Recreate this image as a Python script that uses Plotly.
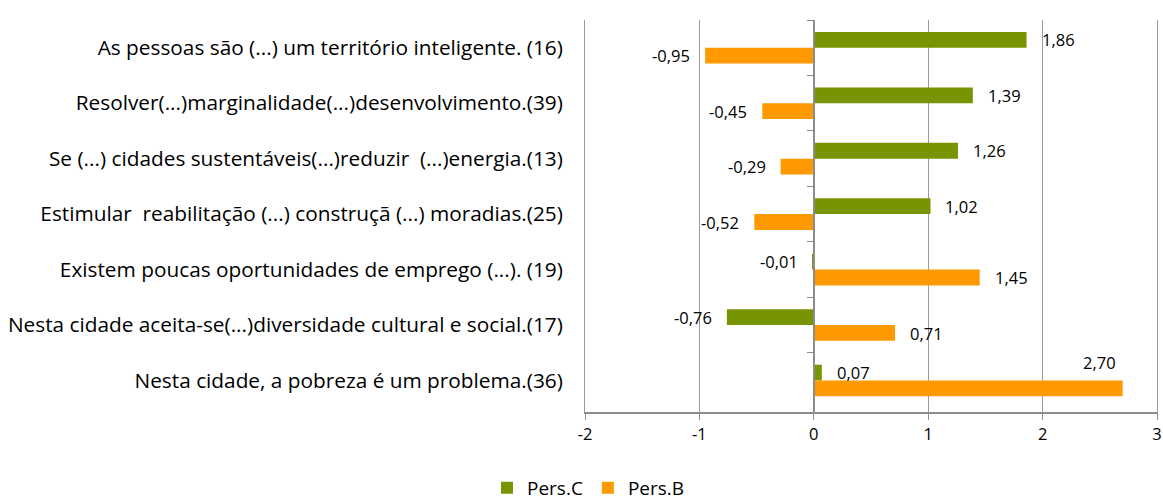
import plotly.graph_objects as go

categories = [
    "As pessoas são (...) um território inteligente. (16)",
    "Resolver(...)marginalidade(...)desenvolvimento.(39)",
    "Se (...) cidades sustentáveis(...)reduzir  (...)energia.(13)",
    "Estimular  reabilitação (...) construçã (...) moradias.(25)",
    "Existem poucas oportunidades de emprego (...). (19)",
    "Nesta cidade aceita-se(...)diversidade cultural e social.(17)",
    "Nesta cidade, a pobreza é um problema.(36)",
]
pers_c = [1.86, 1.39, 1.26, 1.02, -0.01, -0.76, 0.07]
pers_b = [-0.95, -0.45, -0.29, -0.52, 1.45, 0.71, 2.70]
series_names = ["Pers.C", "Pers.B"]
x_ticks = [-2, -1, 0, 1, 2, 3]

GREEN = "#779500"
ORANGE = "#FF9900"
AXIS = "#8c8c8c"
GRID = "#9a9a9a"
FONT = "Open Sans"
X_MAX = 3

def fmt(v):
    return f"{v:.2f}".replace(".", ",")

fig = go.Figure()
for name, vals, col in [(series_names[0], pers_c, GREEN), (series_names[1], pers_b, ORANGE)]:
    fig.add_trace(go.Bar(
        name=name, y=categories, x=vals, orientation="h",
        marker=dict(color=col, line=dict(width=0)),
        hoverinfo="x+y",
    ))

# invisible trace to carry a second y-axis drawn at x=0 with boundary ticks
fig.add_trace(go.Scatter(x=[0] * len(categories), y=categories, yaxis="y2",
                         mode="markers", marker=dict(opacity=0),
                         showlegend=False, hoverinfo="skip"))

# data labels (outside end, like the original)
annotations = []
for vals, yshift in [(pers_c, 8), (pers_b, -8)]:
    for cat, v in zip(categories, vals):
        if v > X_MAX - 0.4:
            # no room at the end: put the label above the bar, right aligned
            annotations.append(dict(x=v, y=cat, text=fmt(v), showarrow=False,
                                    xanchor="right", yanchor="middle",
                                    xshift=-5, yshift=yshift + 26))
        elif v >= 0:
            annotations.append(dict(x=v, y=cat, text=fmt(v), showarrow=False,
                                    xanchor="left", yanchor="middle",
                                    xshift=13, yshift=yshift))
        else:
            annotations.append(dict(x=v, y=cat, text=fmt(v), showarrow=False,
                                    xanchor="right", yanchor="middle",
                                    xshift=-13, yshift=yshift))
for a in annotations:
    a["font"] = dict(family=FONT, size=16.5, color="#000")

fig.update_layout(
    width=1163, height=503,
    margin=dict(l=585, r=6, t=20, b=91, autoexpand=False),
    plot_bgcolor="white", paper_bgcolor="white",
    barmode="group", bargap=0.43, bargroupgap=0,
    font=dict(family=FONT, size=16, color="#000"),
    annotations=annotations,
    xaxis=dict(range=[-2, 3], tickvals=x_ticks, ticktext=[str(t) for t in x_ticks],
               showgrid=True, gridcolor=GRID, gridwidth=1,
               zeroline=False, showline=True, linecolor=AXIS, linewidth=2,
               ticks="outside", ticklen=6, tickcolor=AXIS, automargin=False,
               tickfont=dict(family=FONT, size=16.5, color="#000")),
    yaxis=dict(autorange="reversed", type="category", showgrid=False,
               showline=True, linecolor=GRID, linewidth=1, mirror=True,
               ticks="", ticklabelstandoff=17, automargin=False,
               tickfont=dict(family=FONT, size=20.8, color="#000")),
    yaxis2=dict(overlaying="y", matches="y", anchor="free", position=0.4,
                type="category", showticklabels=False, showgrid=False,
                showline=True, linecolor=AXIS, linewidth=2, automargin=False,
                ticks="outside", tickson="boundaries", ticklen=6, tickcolor=AXIS),
    legend=dict(orientation="h", xref="container", yref="container",
                x=0.506, xanchor="center", y=0.03, yanchor="middle",
                font=dict(family=FONT, size=19, color="#000"), traceorder="normal",
                itemwidth=30),
    showlegend=True,
)

fig.write_html("out.html", config={"displayModeBar": False},
               post_script="document.body.style.margin='0';document.documentElement.style.overflow='hidden';")
